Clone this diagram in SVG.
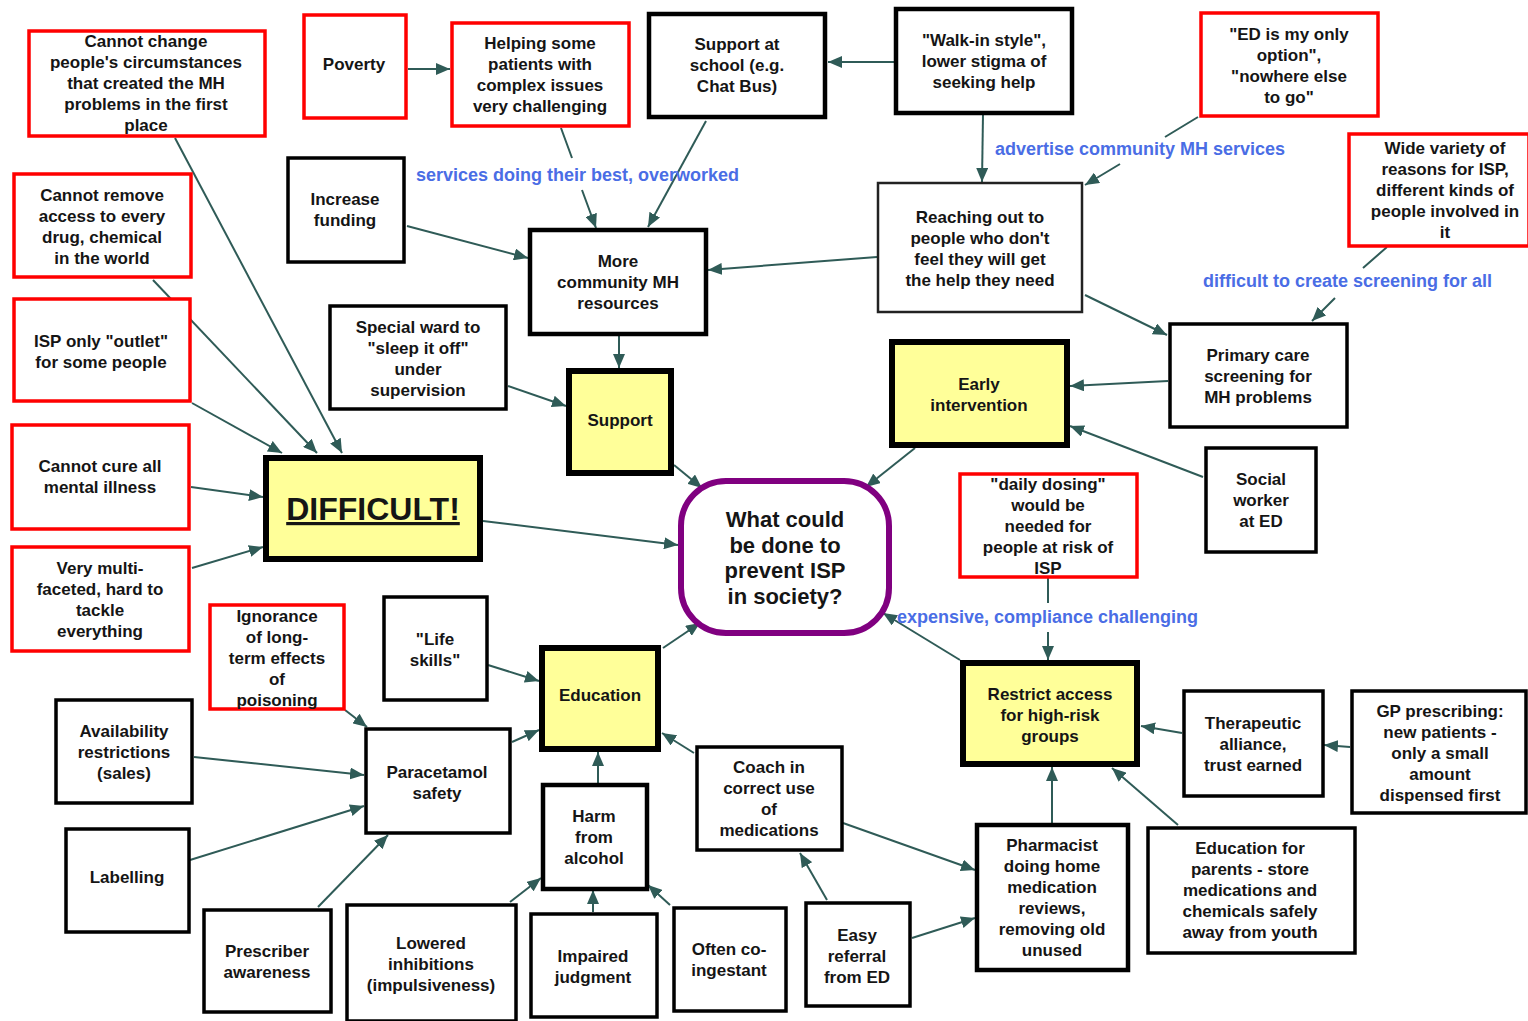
<svg xmlns="http://www.w3.org/2000/svg" width="1528" height="1021" viewBox="0 0 1528 1021">
  <defs>
    <style>
      rect { fill: #ffffff; }
      .red { stroke: #ff0000; stroke-width: 3.5; }
      .blk { stroke: #000000; stroke-width: 3.5; }
      .thick { stroke: #000000; stroke-width: 4.5; }
      .thin { stroke: #222222; stroke-width: 2.5; }
      .yel { fill: #ffff99; stroke: #000000; stroke-width: 6; }
      .hub { fill: #ffffff; stroke: #800080; stroke-width: 6; }
      text { font-family: "Liberation Sans", Arial, sans-serif; font-weight: bold; fill: #151515; }
      .t { font-size: 17px; text-anchor: middle; }
      .big { font-size: 32px; text-anchor: middle; text-decoration: underline; }
      .q { font-size: 22px; text-anchor: middle; }
      .lbl { font-size: 18px; fill: #4a6de5; }
      .edge { fill: none; stroke: #2f5b57; stroke-width: 2; marker-end: url(#arr); }
    </style>
    <marker id="arr" viewBox="0 0 14 12" refX="14" refY="6" markerWidth="14" markerHeight="12" markerUnits="userSpaceOnUse" orient="auto">
      <path d="M0,0 L14,6 L0,12 z" fill="#2f5b57"/>
    </marker>
  </defs>

  <!-- connectors -->
  <g id="connectors">
    <path class="edge" d="M408,69 L450,69"/>
    <path class="edge" d="M561,128 L572,158 M582,190 L596,228"/>
    <path class="edge" d="M706,121 L648,227"/>
    <path class="edge" d="M894,62 L828,62"/>
    <path class="edge" d="M983,114 L982,182"/>
    <path class="edge" d="M1198,117 L1165,137 M1120,164 L1085,185"/>
    <path class="edge" d="M877,257 L708,270"/>
    <path class="edge" d="M1085,295 L1167,335"/>
    <path class="edge" d="M1387,247 L1363,268 M1335,298 L1312,321"/>
    <path class="edge" d="M407,226 L528,258"/>
    <path class="edge" d="M619,335 L619,368"/>
    <path class="edge" d="M508,386 L566,406"/>
    <path class="edge" d="M674,465 L702,488"/>
    <path class="edge" d="M483,521 L678,545"/>
    <path class="edge" d="M175,138 L342,453"/>
    <path class="edge" d="M153,280 L317,453"/>
    <path class="edge" d="M192,403 L282,453"/>
    <path class="edge" d="M191,487 L263,497"/>
    <path class="edge" d="M192,568 L263,547"/>
    <path class="edge" d="M915,448 L866,487"/>
    <path class="edge" d="M1168,381 L1070,386"/>
    <path class="edge" d="M1203,477 L1070,426"/>
    <path class="edge" d="M1048,578 L1048,603 M1048,632 L1048,660"/>
    <path class="edge" d="M960,660 L883,613"/>
    <path class="edge" d="M663,648 L700,623"/>
    <path class="edge" d="M488,665 L539,681"/>
    <path class="edge" d="M345,710 L367,727"/>
    <path class="edge" d="M194,757 L364,775"/>
    <path class="edge" d="M190,860 L364,806"/>
    <path class="edge" d="M318,907 L388,835"/>
    <path class="edge" d="M512,742 L539,730"/>
    <path class="edge" d="M598,783 L598,752"/>
    <path class="edge" d="M694,753 L662,733"/>
    <path class="edge" d="M510,902 L541,878"/>
    <path class="edge" d="M593,912 L593,890"/>
    <path class="edge" d="M670,905 L648,885"/>
    <path class="edge" d="M843,823 L975,870"/>
    <path class="edge" d="M827,900 L800,853"/>
    <path class="edge" d="M912,938 L975,918"/>
    <path class="edge" d="M1052,823 L1052,767"/>
    <path class="edge" d="M1178,825 L1112,768"/>
    <path class="edge" d="M1182,733 L1141,726"/>
    <path class="edge" d="M1350,747 L1324,745"/>
  </g>

  <!-- connector labels -->
  <g id="edge-labels">
    <text class="lbl" x="416" y="181">services doing their best, overworked</text>
    <text class="lbl" x="995" y="155">advertise community MH services</text>
    <text class="lbl" x="1203" y="287">difficult to create screening for all</text>
    <text class="lbl" x="897" y="623">expensive, compliance challenging</text>
  </g>

  <!-- nodes -->
  <g id="cannot-change">
    <rect class="red" x="29" y="31" width="236" height="105"/>
    <text class="t" x="146" y="47"><tspan x="146">Cannot change</tspan><tspan x="146" dy="21">people's circumstances</tspan><tspan x="146" dy="21">that created the MH</tspan><tspan x="146" dy="21">problems in the first</tspan><tspan x="146" dy="21">place</tspan></text>
  </g>
  <g id="poverty">
    <rect class="red" x="304" y="15" width="102" height="103"/>
    <text class="t" x="354" y="70">Poverty</text>
  </g>
  <g id="helping">
    <rect class="red" x="452" y="23" width="177" height="103"/>
    <text class="t" x="540" y="48.5"><tspan x="540">Helping some</tspan><tspan x="540" dy="21">patients with</tspan><tspan x="540" dy="21">complex issues</tspan><tspan x="540" dy="21">very challenging</tspan></text>
  </g>
  <g id="support-school">
    <rect class="thick" x="649" y="14" width="176" height="103"/>
    <text class="t" x="737" y="50"><tspan x="737">Support at</tspan><tspan x="737" dy="21">school (e.g.</tspan><tspan x="737" dy="21">Chat Bus)</tspan></text>
  </g>
  <g id="walk-in">
    <rect class="thick" x="896" y="9" width="176" height="104"/>
    <text class="t" x="984" y="46"><tspan x="984">"Walk-in style",</tspan><tspan x="984" dy="21">lower stigma of</tspan><tspan x="984" dy="21">seeking help</tspan></text>
  </g>
  <g id="ed-only">
    <rect class="red" x="1201" y="13" width="177" height="103"/>
    <text class="t" x="1289" y="39.5"><tspan x="1289">"ED is my only</tspan><tspan x="1289" dy="21">option",</tspan><tspan x="1289" dy="21">"nowhere else</tspan><tspan x="1289" dy="21">to go"</tspan></text>
  </g>
  <g id="wide-variety">
    <rect class="red" x="1349" y="134" width="180" height="112"/>
    <text class="t" x="1445" y="153.5"><tspan x="1445">Wide variety of</tspan><tspan x="1445" dy="21">reasons for ISP,</tspan><tspan x="1445" dy="21">different kinds of</tspan><tspan x="1445" dy="21">people involved in</tspan><tspan x="1445" dy="21">it</tspan></text>
  </g>
  <g id="cannot-remove">
    <rect class="red" x="14" y="174" width="177" height="103"/>
    <text class="t" x="102" y="200.5"><tspan x="102">Cannot remove</tspan><tspan x="102" dy="21">access to every</tspan><tspan x="102" dy="21">drug, chemical</tspan><tspan x="102" dy="21">in the world</tspan></text>
  </g>
  <g id="increase-funding">
    <rect class="blk" x="288" y="158" width="116" height="104"/>
    <text class="t" x="345" y="205"><tspan x="345">Increase</tspan><tspan x="345" dy="21">funding</tspan></text>
  </g>
  <g id="more-community">
    <rect class="thick" x="530" y="230" width="176" height="104"/>
    <text class="t" x="618" y="267"><tspan x="618">More</tspan><tspan x="618" dy="21">community MH</tspan><tspan x="618" dy="21">resources</tspan></text>
  </g>
  <g id="reaching-out">
    <rect class="thin" x="878" y="183" width="204" height="129"/>
    <text class="t" x="980" y="223"><tspan x="980">Reaching out to</tspan><tspan x="980" dy="21">people who don't</tspan><tspan x="980" dy="21">feel they will get</tspan><tspan x="980" dy="21">the help they need</tspan></text>
  </g>
  <g id="special-ward">
    <rect class="blk" x="330" y="306" width="176" height="103"/>
    <text class="t" x="418" y="332.5"><tspan x="418">Special ward to</tspan><tspan x="418" dy="21">"sleep it off"</tspan><tspan x="418" dy="21">under</tspan><tspan x="418" dy="21">supervision</tspan></text>
  </g>
  <g id="support">
    <rect class="yel" x="569" y="371" width="102" height="102"/>
    <text class="t" x="620" y="426">Support</text>
  </g>
  <g id="isp-outlet">
    <rect class="red" x="14" y="299" width="176" height="102"/>
    <text class="t" x="101" y="346.5"><tspan x="101">ISP only "outlet"</tspan><tspan x="101" dy="21">for some people</tspan></text>
  </g>
  <g id="cannot-cure">
    <rect class="red" x="12" y="425" width="177" height="104"/>
    <text class="t" x="100" y="472"><tspan x="100">Cannot cure all</tspan><tspan x="100" dy="21">mental illness</tspan></text>
  </g>
  <g id="difficult">
    <rect class="yel" x="266" y="458" width="214" height="101"/>
    <text class="big" x="373" y="520">DIFFICULT!</text>
  </g>
  <g id="very-multi">
    <rect class="red" x="12" y="547" width="177" height="104"/>
    <text class="t" x="100" y="573.5"><tspan x="100">Very multi-</tspan><tspan x="100" dy="21">faceted, hard to</tspan><tspan x="100" dy="21">tackle</tspan><tspan x="100" dy="21">everything</tspan></text>
  </g>
  <g id="question">
    <rect class="hub" x="681" y="481" width="208" height="152" rx="45" ry="45"/>
    <text class="q" x="785" y="527"><tspan x="785">What could</tspan><tspan x="785" dy="25.7">be done to</tspan><tspan x="785" dy="25.7">prevent ISP</tspan><tspan x="785" dy="25.7">in society?</tspan></text>
  </g>
  <g id="early-intervention">
    <rect class="yel" x="892" y="342" width="175" height="103"/>
    <text class="t" x="979" y="390"><tspan x="979">Early</tspan><tspan x="979" dy="20.5">intervention</tspan></text>
  </g>
  <g id="primary-care">
    <rect class="blk" x="1170" y="324" width="177" height="103"/>
    <text class="t" x="1258" y="361"><tspan x="1258">Primary care</tspan><tspan x="1258" dy="21">screening for</tspan><tspan x="1258" dy="21">MH problems</tspan></text>
  </g>
  <g id="social-worker">
    <rect class="blk" x="1206" y="448" width="110" height="104"/>
    <text class="t" x="1261" y="484.5"><tspan x="1261">Social</tspan><tspan x="1261" dy="21">worker</tspan><tspan x="1261" dy="21">at ED</tspan></text>
  </g>
  <g id="daily-dosing">
    <rect class="red" x="960" y="474" width="177" height="103"/>
    <text class="t" x="1048" y="489.5"><tspan x="1048">"daily dosing"</tspan><tspan x="1048" dy="21">would be</tspan><tspan x="1048" dy="21">needed for</tspan><tspan x="1048" dy="21">people at risk of</tspan><tspan x="1048" dy="21">ISP</tspan></text>
  </g>
  <g id="ignorance">
    <rect class="red" x="210" y="605" width="134" height="104"/>
    <text class="t" x="277" y="621.5"><tspan x="277">Ignorance</tspan><tspan x="277" dy="21">of long-</tspan><tspan x="277" dy="21">term effects</tspan><tspan x="277" dy="21">of</tspan><tspan x="277" dy="21">poisoning</tspan></text>
  </g>
  <g id="life-skills">
    <rect class="blk" x="384" y="597" width="103" height="103"/>
    <text class="t" x="435" y="645"><tspan x="435">"Life</tspan><tspan x="435" dy="21">skills"</tspan></text>
  </g>
  <g id="education">
    <rect class="yel" x="542" y="648" width="116" height="101"/>
    <text class="t" x="600" y="701">Education</text>
  </g>
  <g id="availability">
    <rect class="blk" x="56" y="700" width="136" height="103"/>
    <text class="t" x="124" y="737"><tspan x="124">Availability</tspan><tspan x="124" dy="21">restrictions</tspan><tspan x="124" dy="21">(sales)</tspan></text>
  </g>
  <g id="paracetamol">
    <rect class="blk" x="366" y="729" width="144" height="104"/>
    <text class="t" x="437" y="777.5"><tspan x="437">Paracetamol</tspan><tspan x="437" dy="21">safety</tspan></text>
  </g>
  <g id="labelling">
    <rect class="blk" x="66" y="829" width="123" height="103"/>
    <text class="t" x="127" y="883">Labelling</text>
  </g>
  <g id="prescriber">
    <rect class="blk" x="204" y="910" width="127" height="102"/>
    <text class="t" x="267" y="957"><tspan x="267">Prescriber</tspan><tspan x="267" dy="21">awareness</tspan></text>
  </g>
  <g id="lowered">
    <rect class="blk" x="347" y="905" width="169" height="116"/>
    <text class="t" x="431" y="948.5"><tspan x="431">Lowered</tspan><tspan x="431" dy="21">inhibitions</tspan><tspan x="431" dy="21">(impulsiveness)</tspan></text>
  </g>
  <g id="harm-alcohol">
    <rect class="thick" x="543" y="785" width="104" height="104"/>
    <text class="t" x="594" y="822"><tspan x="594">Harm</tspan><tspan x="594" dy="21">from</tspan><tspan x="594" dy="21">alcohol</tspan></text>
  </g>
  <g id="impaired">
    <rect class="blk" x="531" y="914" width="126" height="103"/>
    <text class="t" x="593" y="961.5"><tspan x="593">Impaired</tspan><tspan x="593" dy="21">judgment</tspan></text>
  </g>
  <g id="co-ingestant">
    <rect class="blk" x="674" y="908" width="112" height="103"/>
    <text class="t" x="729" y="954.5"><tspan x="729">Often co-</tspan><tspan x="729" dy="21">ingestant</tspan></text>
  </g>
  <g id="coach">
    <rect class="blk" x="697" y="747" width="145" height="103"/>
    <text class="t" x="769" y="772.5"><tspan x="769">Coach in</tspan><tspan x="769" dy="21">correct use</tspan><tspan x="769" dy="21">of</tspan><tspan x="769" dy="21">medications</tspan></text>
  </g>
  <g id="easy-referral">
    <rect class="blk" x="806" y="903" width="104" height="103"/>
    <text class="t" x="857" y="940.5"><tspan x="857">Easy</tspan><tspan x="857" dy="21">referral</tspan><tspan x="857" dy="21">from ED</tspan></text>
  </g>
  <g id="pharmacist">
    <rect class="thick" x="977" y="825" width="151" height="145"/>
    <text class="t" x="1052" y="851"><tspan x="1052">Pharmacist</tspan><tspan x="1052" dy="21">doing home</tspan><tspan x="1052" dy="21">medication</tspan><tspan x="1052" dy="21">reviews,</tspan><tspan x="1052" dy="21">removing old</tspan><tspan x="1052" dy="21">unused</tspan></text>
  </g>
  <g id="restrict-access">
    <rect class="yel" x="963" y="663" width="174" height="101"/>
    <text class="t" x="1050" y="699.5"><tspan x="1050">Restrict access</tspan><tspan x="1050" dy="21">for high-risk</tspan><tspan x="1050" dy="21">groups</tspan></text>
  </g>
  <g id="education-parents">
    <rect class="blk" x="1148" y="828" width="207" height="125"/>
    <text class="t" x="1250" y="854"><tspan x="1250">Education for</tspan><tspan x="1250" dy="21">parents - store</tspan><tspan x="1250" dy="21">medications and</tspan><tspan x="1250" dy="21">chemicals safely</tspan><tspan x="1250" dy="21">away from youth</tspan></text>
  </g>
  <g id="therapeutic">
    <rect class="blk" x="1184" y="691" width="139" height="105"/>
    <text class="t" x="1253" y="729"><tspan x="1253">Therapeutic</tspan><tspan x="1253" dy="21">alliance,</tspan><tspan x="1253" dy="21">trust earned</tspan></text>
  </g>
  <g id="gp-prescribing">
    <rect class="blk" x="1352" y="691" width="174" height="122"/>
    <text class="t" x="1440" y="716.5"><tspan x="1440">GP prescribing:</tspan><tspan x="1440" dy="21">new patients -</tspan><tspan x="1440" dy="21">only a small</tspan><tspan x="1440" dy="21">amount</tspan><tspan x="1440" dy="21">dispensed first</tspan></text>
  </g>
</svg>
